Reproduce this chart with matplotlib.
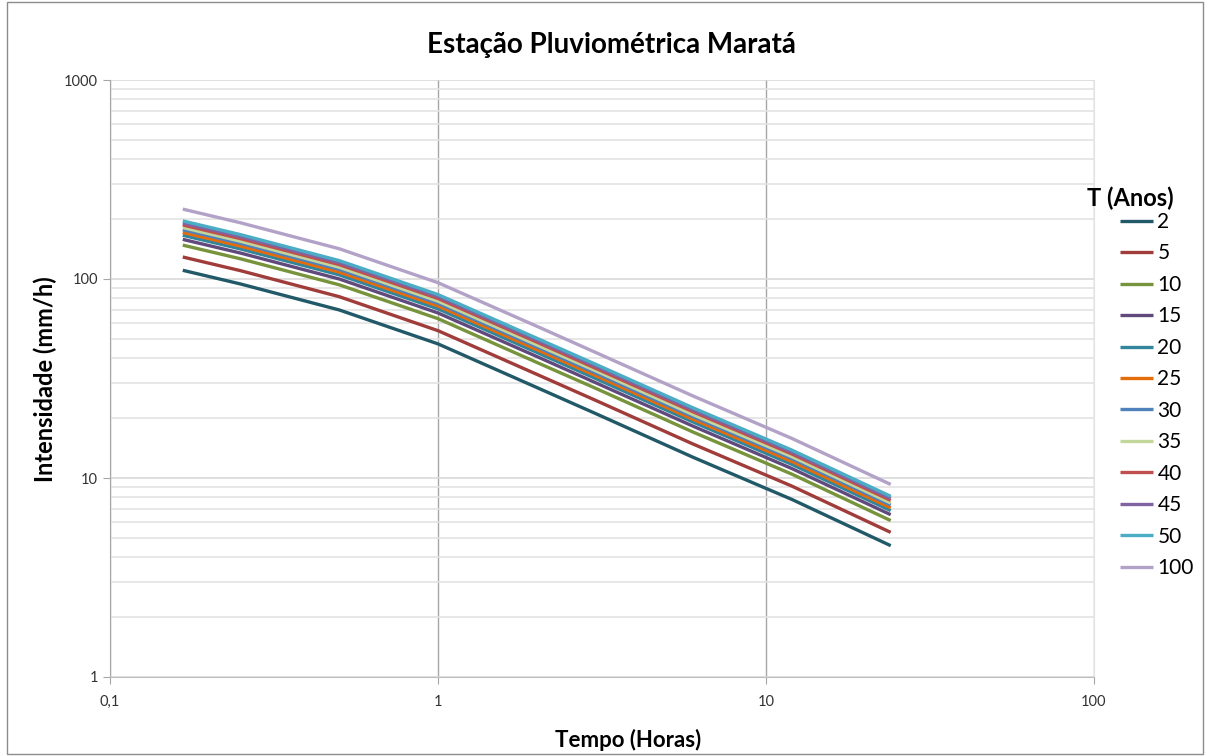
import numpy as np
import matplotlib
matplotlib.use("Agg")
import matplotlib.pyplot as plt
from matplotlib.ticker import LogLocator, FixedLocator, NullFormatter
from matplotlib.patches import Rectangle

plt.rcParams['font.family'] = ['Lato', 'DejaVu Sans']

# durações (horas): 10, 15, 30 min, 1, 2, 3, 6, 12, 24 h
tempo = [1 / 6, 0.25, 0.5, 1, 2, 3, 6, 12, 24]

# intensidades (mm/h) por período de retorno T (anos)
T2 = [110.6, 94.4, 69.9, 47.2, 28.5, 21.2, 12.7, 7.8, 4.57]
T5 = [129.0, 110.1, 81.5, 55.0, 33.2, 24.7, 14.8, 9.1, 5.33]
T10 = [148.0, 126.3, 93.5, 63.2, 38.1, 28.4, 17.0, 10.45, 6.11]
T15 = [158.2, 135.0, 100.0, 67.5, 40.8, 30.3, 18.2, 11.15, 6.54]
T20 = [165.9, 141.6, 104.9, 70.8, 42.8, 31.8, 19.1, 11.7, 6.86]
T25 = [171.4, 146.3, 108.3, 73.2, 44.2, 32.9, 19.7, 12.1, 7.08]
T30 = [177.0, 151.0, 111.8, 75.5, 45.6, 33.9, 20.3, 12.5, 7.31]
T35 = [181.4, 154.8, 114.6, 77.4, 46.7, 34.8, 20.8, 12.8, 7.49]
T40 = [186.9, 159.5, 118.1, 79.8, 48.2, 35.8, 21.5, 13.2, 7.72]
T45 = [191.3, 163.3, 120.9, 81.7, 49.3, 36.7, 22.0, 13.5, 7.91]
T50 = [195.8, 167.1, 123.7, 83.5, 50.4, 37.5, 22.5, 13.8, 8.09]
T100 = [224.5, 191.6, 141.9, 95.8, 57.9, 43.0, 25.8, 15.8, 9.28]

series = [T2, T5, T10, T15, T20, T25, T30, T35, T40, T45, T50, T100]
labels = ['2', '5', '10', '15', '20', '25', '30', '35', '40', '45', '50', '100']
cores = ['#215968', '#A03C3A', '#77933C', '#604A7B', '#31859C', '#E46C0A',
         '#4F81BD', '#C3D69B', '#C0504D', '#8064A2', '#4BACC6', '#B3A2C7']

W, H = 1206, 756
fig = plt.figure(figsize=(W / 100, H / 100), dpi=100)
ax = fig.add_axes([110 / W, 1 - 677 / H, 984 / W, 597 / H])

for s, lab, c in zip(series, labels, cores):
    ax.plot(tempo, s, color=c, lw=2.4, label=lab, solid_capstyle='butt')

ax.set_xscale('log')
ax.set_yscale('log')
ax.set_xlim(0.1, 100)
ax.set_ylim(1, 1000)

ax.xaxis.set_major_locator(FixedLocator([0.1, 1, 10, 100]))
ax.xaxis.set_minor_locator(FixedLocator([]))
ax.set_xticklabels(['0,1', '1', '10', '100'])
ax.yaxis.set_major_locator(FixedLocator([1, 10, 100, 1000]))
ax.yaxis.set_minor_locator(LogLocator(base=10, subs=np.arange(2, 10)))
ax.yaxis.set_minor_formatter(NullFormatter())
ax.set_yticklabels(['1', '10', '100', '1000'])

ax.grid(True, which='major', axis='y', color='#D9D9D9', lw=1.2)
ax.grid(True, which='minor', axis='y', color='#E3E3E3', lw=1.2)
ax.grid(True, which='major', axis='x', color='#A6A6A6', lw=1.0)
ax.set_axisbelow(True)

ax.spines['top'].set_visible(False)
ax.spines['right'].set_color('#E3E3E3')
ax.spines['left'].set_color('#A6A6A6')
ax.spines['bottom'].set_color('#BFBFBF')
ax.tick_params(which='major', length=5, color='#A6A6A6', labelsize=10.5,
               labelcolor='#333333')
ax.tick_params(which='minor', length=0)
ax.tick_params(axis='x', pad=8)

fig.text(611 / W, 1 - 45 / H, 'Estação Pluviométrica Maratá', fontsize=20,
         fontweight='bold', ha='center', va='center')
fig.text(628 / W, 1 - 740 / H, 'Tempo (Horas)', fontsize=16,
         fontweight='bold', ha='center', va='center')
fig.text(45 / W, 1 - 379 / H, 'Intensidade (mm/h)', fontsize=17, rotation=90,
         fontweight='bold', ha='center', va='center')

# legenda
fig.text(1087 / W, 1 - 198 / H, 'T (Anos)', fontsize=17, fontweight='bold',
         ha='left', va='center')
leg = ax.legend(loc='upper left', bbox_to_anchor=(1120 / W, 1 - 212 / H),
                bbox_transform=fig.transFigure, frameon=False, fontsize=15,
                handlelength=1.6, handletextpad=0.2, labelspacing=0.55,
                borderaxespad=0, borderpad=0)

fig.patches.append(Rectangle((7 / W, 0.002), 1196 / W, 0.995, transform=fig.transFigure,
                             fill=False, edgecolor='#8C8C8C', lw=1))

fig.savefig('out.png', dpi=100)
